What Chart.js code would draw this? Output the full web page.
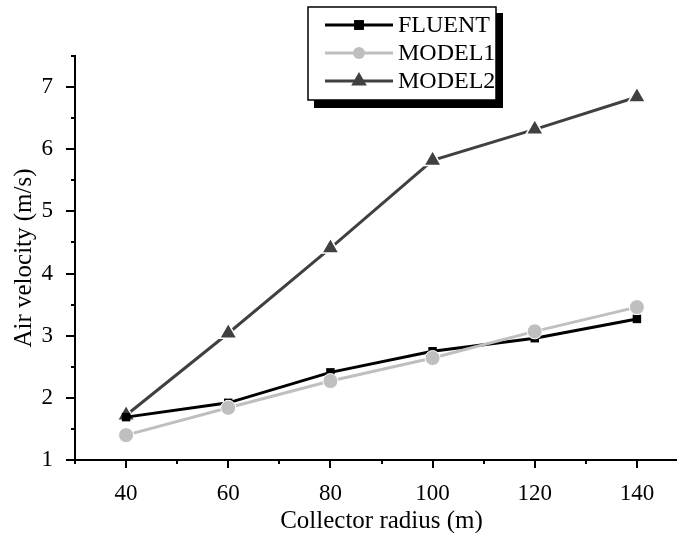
<!DOCTYPE html>
<html>
<head>
<meta charset="utf-8">
<script src="https://cdn.jsdelivr.net/npm/chart.js@4.4.0/dist/chart.umd.min.js"></script>
<style>
html, body { margin: 0; padding: 0; background: #fff; overflow: hidden; }
#wrap { width: 700px; height: 533px; }
</style>
</head>
<body>
<div id="wrap"><canvas id="myChart" width="700" height="533"></canvas></div>
<script>
/* values */
const radius = [40, 60, 80, 100, 120, 140];
const fluent = [1.69, 1.92, 2.41, 2.75, 2.96, 3.27];
const model1 = [1.40, 1.84, 2.27, 2.64, 3.07, 3.46];
const model2 = [1.72, 3.04, 4.41, 5.82, 6.32, 6.84];
const xLabels = [40, 60, 80, 100, 120, 140];
const yLabels = [1, 2, 3, 4, 5, 6, 7];

const serif = "'Liberation Serif', 'Times New Roman', serif";

function pts(vals) {
    return radius.map((r, i) => ({ x: r, y: vals[i] }));
}

/* outward ticks, long on labelled values, short in between */
const axisTicks = {
    id: 'axisTicks',
    afterDraw(chart) {
        const ctx = chart.ctx;
        const xs = chart.scales.x, ys = chart.scales.y;
        ctx.save();
        ctx.strokeStyle = '#000';
        ctx.lineWidth = 2;
        ctx.beginPath();
        xs.ticks.forEach(t => {
            const px = Math.round(xs.getPixelForValue(t.value));
            const len = xLabels.includes(t.value) ? 8 : 4;
            ctx.moveTo(px, xs.top);
            ctx.lineTo(px, xs.top + len);
        });
        ys.ticks.forEach(t => {
            const py = Math.round(ys.getPixelForValue(t.value));
            const len = yLabels.includes(t.value) ? 9 : 4;
            ctx.moveTo(ys.right, py);
            ctx.lineTo(ys.right - len, py);
        });
        ctx.stroke();
        ctx.restore();
    }
};

/* framed legend with a drop shadow */
const boxLegend = {
    id: 'boxLegend',
    afterDraw(chart) {
        const ctx = chart.ctx;
        const x0 = 308, y0 = 7, w = 188, h = 93;
        ctx.save();
        ctx.fillStyle = '#000';
        ctx.fillRect(x0 + 6, y0 + 6, w + 1, h + 2);
        ctx.fillStyle = '#fff';
        ctx.fillRect(x0, y0, w, h);
        ctx.strokeStyle = '#000';
        ctx.lineWidth = 1.5;
        ctx.strokeRect(x0, y0, w, h);

        chart.data.datasets.forEach((ds, i) => {
            const y = y0 + 18 + i * 28;
            ctx.strokeStyle = ds.borderColor;
            ctx.lineWidth = 3;
            ctx.beginPath();
            ctx.moveTo(x0 + 17, y);
            ctx.lineTo(x0 + 85, y);
            ctx.stroke();
            ctx.fillStyle = ds.pointBackgroundColor;
            Chart.helpers.drawPoint(ctx, {
                pointStyle: ds.pointStyle,
                radius: ds.legendRadius,
                rotation: 0,
                borderWidth: 0
            }, x0 + 51, y);
            ctx.fillStyle = '#000';
            ctx.font = '24px ' + serif;
            ctx.textBaseline = 'middle';
            ctx.textAlign = 'left';
            ctx.fillText(ds.label, x0 + 90, y + 1);
        });
        ctx.restore();
    }
};

const ctx = document.getElementById('myChart').getContext('2d');
const chart = new Chart(ctx, {
    type: 'line',
    data: {
        datasets: [
            {
                label: 'FLUENT',
                data: pts(fluent),
                borderColor: '#000000',
                pointBackgroundColor: '#000000',
                pointBorderColor: '#000000',
                pointStyle: 'rect',
                pointRadius: 6,
                legendRadius: 7,
                borderWidth: 3,
                pointBorderWidth: 0,
                order: 1
            },
            {
                label: 'MODEL1',
                data: pts(model1),
                borderColor: '#bfbfbf',
                pointBackgroundColor: '#bfbfbf',
                pointBorderColor: '#ffffff',
                pointStyle: 'circle',
                pointRadius: 7.5,
                legendRadius: 6,
                borderWidth: 3,
                pointBorderWidth: 1,
                order: 0
            },
            {
                label: 'MODEL2',
                data: pts(model2),
                borderColor: '#404040',
                pointBackgroundColor: '#404040',
                pointBorderColor: '#ffffff',
                pointStyle: 'triangle',
                pointRadius: 10,
                legendRadius: 9,
                borderWidth: 3,
                pointBorderWidth: 1.5,
                order: 2
            }
        ]
    },
    options: {
        responsive: false,
        animation: false,
        layout: { padding: { top: 56, right: 3, left: 0, bottom: 0 } },
        plugins: {
            legend: { display: false },
            tooltip: { enabled: false }
        },
        scales: {
            x: {
                type: 'linear',
                min: 30,
                max: 150,
                afterFit(scale) { scale.height = 73; },
                grid: { display: false },
                border: { display: true, color: '#000', width: 2 },
                ticks: {
                    stepSize: 10,
                    autoSkip: false,
                    maxRotation: 0,
                    padding: 12,
                    color: '#000',
                    font: { family: serif, size: 23 },
                    callback: v => xLabels.includes(v) ? String(v) : ''
                },
                title: {
                    display: true,
                    text: 'Collector radius (m)',
                    color: '#000',
                    font: { family: serif, size: 25, lineHeight: 0.9 },
                    padding: { top: 0, bottom: 0 }
                }
            },
            y: {
                min: 1,
                max: 7.5,
                afterFit(scale) { scale.width = 75; },
                grid: { display: false },
                border: { display: true, color: '#000', width: 2 },
                ticks: {
                    stepSize: 0.5,
                    autoSkip: false,
                    padding: 14,
                    color: '#000',
                    font: { family: serif, size: 23 },
                    callback: v => yLabels.includes(v) ? String(v) : ''
                },
                title: {
                    display: true,
                    text: 'Air velocity (m/s)',
                    color: '#000',
                    font: { family: serif, size: 25, lineHeight: 1 },
                    padding: { top: 12, bottom: 0 }
                }
            }
        }
    },
    plugins: [axisTicks, boxLegend]
});
</script>
</body>
</html>
